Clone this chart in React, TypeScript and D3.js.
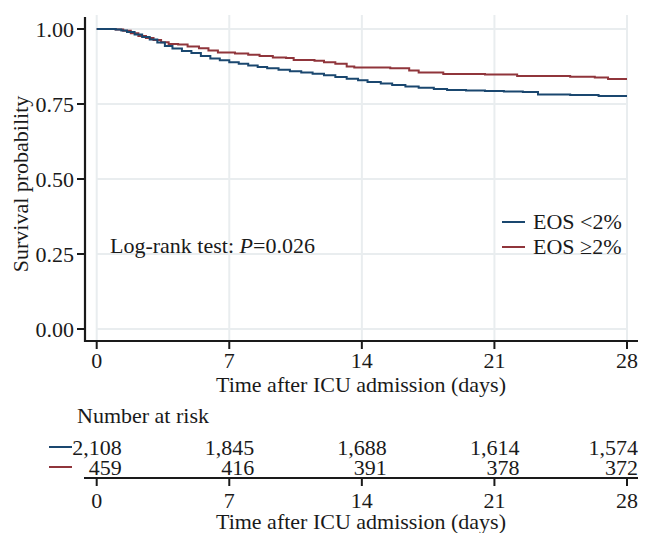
import React, { useEffect, useRef } from 'react';
import * as d3 from 'd3';

// Kaplan-Meier estimates (days, survival)
const lowTimes = [0, 0.5, 1.0, 1.3, 1.6, 2.0, 2.4, 2.8, 3.2, 3.6, 4.0, 4.5, 5.0, 5.5, 6.0, 6.5, 7.0, 7.5, 8.0, 8.5, 9.0, 9.6, 10.2, 10.8, 11.4, 12.0, 12.6, 13.2, 13.8, 14.3, 15.0, 15.6, 16.3, 17.0, 17.8, 18.5, 19.5, 20.5, 21.5, 22.5, 23.3, 25.0, 26.5, 28];
const lowSurv = [1.0, 1.0, 0.998, 0.995, 0.99, 0.982, 0.973, 0.965, 0.955, 0.943, 0.935, 0.927, 0.92, 0.91, 0.902, 0.896, 0.889, 0.884, 0.878, 0.873, 0.869, 0.864, 0.859, 0.855, 0.851, 0.846, 0.84, 0.834, 0.829, 0.823, 0.818, 0.813, 0.808, 0.804, 0.8, 0.797, 0.795, 0.793, 0.792, 0.79, 0.782, 0.78, 0.777, 0.777];

const highTimes = [0, 1.0, 1.4, 1.8, 2.2, 2.6, 3.0, 3.4, 3.8, 4.3, 4.8, 5.4, 5.9, 6.4, 7.3, 8.0, 8.6, 9.3, 10.0, 10.4, 11.5, 12.0, 12.6, 13.2, 13.6, 15.5, 16.5, 17.0, 18.3, 20.5, 22.2, 25.0, 26.3, 27.0, 28];
const highSurv = [1.0, 0.998, 0.994, 0.986, 0.977, 0.97, 0.963, 0.956, 0.95, 0.948, 0.942, 0.936, 0.928, 0.922, 0.918, 0.914, 0.91, 0.905, 0.903, 0.897, 0.894, 0.889, 0.884, 0.875, 0.872, 0.869, 0.862, 0.855, 0.85, 0.848, 0.843, 0.841, 0.838, 0.833, 0.833];

const groupLabels = ['EOS <2%', 'EOS \u22652%'];
const groupColors = ['#1a476f', '#90353b'];

const xTicks = [0, 7, 14, 21, 28];
const yTicks = [0, 0.25, 0.5, 0.75, 1];
const riskLow = [2108, 1845, 1688, 1614, 1574];
const riskHigh = [459, 416, 391, 378, 372];

const FONT = '"Liberation Serif", "Times New Roman", serif';
const INK = '#1a1a1a';

const App = () => {
  const svgRef = useRef<SVGSVGElement>(null);

  useEffect(() => {
    const svg = d3.select(svgRef.current);
    svg.selectAll('*').remove();

    const x = d3.scaleLinear().domain([0, 28]).range([96.7, 627]);
    const y = d3.scaleLinear().domain([0, 1]).range([329, 29]);

    const g = svg.append('g').attr('font-family', FONT).attr('fill', INK);

    // gridlines
    g.selectAll('.hgrid')
      .data(yTicks)
      .enter()
      .append('line')
      .attr('x1', 96).attr('x2', 627)
      .attr('y1', d => y(d)).attr('y2', d => y(d))
      .attr('stroke', '#e9edef').attr('stroke-width', 2);
    g.selectAll('.vgrid')
      .data(xTicks)
      .enter()
      .append('line')
      .attr('x1', d => x(d)).attr('x2', d => x(d))
      .attr('y1', 15).attr('y2', 341)
      .attr('stroke', '#e9edef').attr('stroke-width', 2);

    // survival curves
    const line = d3.line<[number, number]>()
      .x(d => x(d[0]))
      .y(d => y(d[1]))
      .curve(d3.curveStepAfter);
    const series: [number, number][][] = [
      lowTimes.map((t, i) => [t, lowSurv[i]]),
      highTimes.map((t, i) => [t, highSurv[i]]),
    ];
    // red first so blue sits on top where they coincide
    [1, 0].forEach(i => {
      g.append('path')
        .attr('d', line(series[i]))
        .attr('fill', 'none')
        .attr('stroke', groupColors[i])
        .attr('stroke-width', 2);
    });

    // y axis
    g.append('line')
      .attr('x1', 85).attr('x2', 85).attr('y1', 17).attr('y2', 342)
      .attr('stroke', INK).attr('stroke-width', 2.2);
    g.selectAll('.ytick')
      .data(yTicks)
      .enter()
      .append('line')
      .attr('x1', 77).attr('x2', 85)
      .attr('y1', d => y(d)).attr('y2', d => y(d))
      .attr('stroke', INK).attr('stroke-width', 2);
    g.selectAll('.ylab')
      .data(yTicks)
      .enter()
      .append('text')
      .attr('x', 74)
      .attr('y', d => y(d) + 8)
      .attr('text-anchor', 'end')
      .attr('font-size', 22)
      .text(d => d3.format('.2f')(d));
    g.append('text')
      .attr('transform', 'translate(28,184) rotate(-90)')
      .attr('text-anchor', 'middle')
      .attr('font-size', 22)
      .text('Survival probability');

    // x axis (used for the plot and again under the risk table)
    const drawXAxis = (axisY: number, labelY: number, titleY: number) => {
      g.append('line')
        .attr('x1', 84).attr('x2', 638).attr('y1', axisY).attr('y2', axisY)
        .attr('stroke', INK).attr('stroke-width', 2.2);
      g.selectAll(null)
        .data(xTicks)
        .enter()
        .append('line')
        .attr('x1', d => x(d)).attr('x2', d => x(d))
        .attr('y1', axisY).attr('y2', axisY + 8)
        .attr('stroke', INK).attr('stroke-width', 2);
      g.selectAll(null)
        .data(xTicks)
        .enter()
        .append('text')
        .attr('x', d => x(d))
        .attr('y', labelY)
        .attr('text-anchor', 'middle')
        .attr('font-size', 22)
        .text(d => d);
      g.append('text')
        .attr('x', 361)
        .attr('y', titleY)
        .attr('text-anchor', 'middle')
        .attr('font-size', 22)
        .text('Time after ICU admission (days)');
    };
    drawXAxis(341, 368, 392);

    // legend
    groupLabels.forEach((lab, i) => {
      const ly = 222 + i * 25;
      g.append('line')
        .attr('x1', 502).attr('x2', 525).attr('y1', ly).attr('y2', ly)
        .attr('stroke', groupColors[i]).attr('stroke-width', 2);
      g.append('text')
        .attr('x', 533).attr('y', ly + 7)
        .attr('font-size', 22)
        .text(lab);
    });

    // log-rank annotation
    const lr = g.append('text').attr('x', 110).attr('y', 253).attr('font-size', 22);
    lr.append('tspan').text('Log-rank test: ');
    lr.append('tspan').attr('font-style', 'italic').text('P');
    lr.append('tspan').text('=0.026');

    // number at risk table
    g.append('text')
      .attr('x', 77).attr('y', 423)
      .attr('font-size', 22)
      .text('Number at risk');
    [riskLow, riskHigh].forEach((row, i) => {
      const ry = 447 + i * 20;
      g.append('line')
        .attr('x1', 49).attr('x2', 72).attr('y1', ry).attr('y2', ry)
        .attr('stroke', groupColors[i]).attr('stroke-width', 2);
      g.selectAll(null)
        .data(row)
        .enter()
        .append('text')
        .attr('x', (d, j) => Math.min(x(xTicks[j]) + 25, 638))
        .attr('y', ry + 8)
        .attr('text-anchor', 'end')
        .attr('font-size', 22)
        .text(d => d3.format(',')(d));
    });
    drawXAxis(478, 508, 529);
  }, []);

  return (
    <svg
      ref={svgRef}
      width={656}
      height={533}
      style={{ position: 'absolute', left: 0, top: 0, background: '#fff' }}
    ></svg>
  );
};

export default App;
